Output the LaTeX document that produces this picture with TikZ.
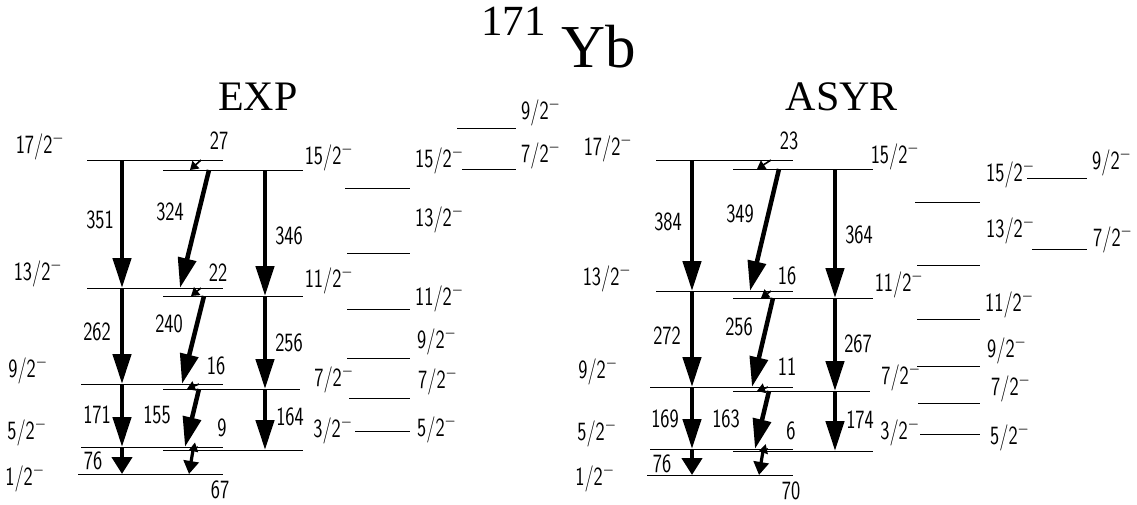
\documentclass[tikz,border=0pt]{standalone}
\usepackage{fontspec}
\setmainfont{Liberation Serif}
\usepackage{graphicx}
\usetikzlibrary{arrows.meta}
\newcommand{\tall}[1]{\scalebox{1}[1.35]{#1}}
\newcommand{\spin}[1]{\tall{#1/2$^{-}$}}

\begin{document}
\begin{tikzpicture}[x=1pt,y=-1pt,>={Triangle[length=30pt,width=18pt]}]
  \tikzstyle{lev}=[line width=1pt]
  \tikzstyle{gam}=[->,line width=4.5pt]
  \tikzstyle{gams}=[-{Triangle[length=17pt,width=20pt]},line width=4.5pt]
  \tikzstyle{gamt}=[-{Triangle[length=13pt,width=15pt]},line width=3.2pt]
  \tikzstyle{mix}=[-{Triangle[length=8pt,width=10pt]},line width=1.6pt]
  \tikzstyle{lbl}=[font=\sffamily\fontsize{19.5}{20}\selectfont,inner sep=0pt]
  \tikzstyle{head}=[font=\fontsize{42}{42}\selectfont,inner sep=0pt,anchor=base]
  \useasboundingbox (0,0) rectangle (1137,504);

  % title
  \node[anchor=base west,inner sep=0pt,font=\fontsize{43}{43}\selectfont] (mass) at (481,35) {171};
  \node[anchor=base west,inner sep=0pt,font=\fontsize{61}{61}\selectfont] (elem) at (561,67) {Yb};
  \node[head] (exp) at (258,110) {EXP};
  \node[head] (asyr) at (842,110) {ASYR};

  % EXP levels
  \draw[lev] (87,160) -- (223,160);
  \draw[lev] (163,170) -- (303,170);
  \draw[lev] (87,288) -- (223,288);
  \draw[lev] (163,296) -- (303,296);
  \draw[lev] (81,384) -- (223,384);
  \draw[lev] (163,389) -- (300,389);
  \draw[lev] (81,447) -- (223,447);
  \draw[lev] (163,450) -- (303,450);
  \draw[lev] (78,474) -- (223,474);
  \draw[lev] (345,188) -- (410,188);
  \draw[lev] (347,253) -- (410,253);
  \draw[lev] (347,309) -- (410,309);
  \draw[lev] (347,358) -- (410,358);
  \draw[lev] (349,398) -- (410,398);
  \draw[lev] (355,431) -- (410,431);
  \draw[lev] (457,128) -- (516,128);
  \draw[lev] (462,169) -- (516,169);

  % EXP transitions
  \coordinate (e17) at (122,160); \coordinate (e13) at (122,288);
  \coordinate (e9) at (122,384);  \coordinate (e5) at (122,447);
  \coordinate (e1) at (122,474);
  \coordinate (e15) at (265,170); \coordinate (e11) at (265,296);
  \coordinate (e7) at (265,389);  \coordinate (e3) at (265,450);
  \coordinate (ed15) at (209,170); \coordinate (ed13) at (180,288);
  \coordinate (ed11) at (204,296); \coordinate (ed9) at (182,384);
  \coordinate (ed7) at (199,389);  \coordinate (ed5) at (185,447);
  \coordinate (ed3) at (193,450);  \coordinate (ed1) at (189,474);
  \coordinate (em17) at (201,160); \coordinate (em15) at (190,170);
  \coordinate (em13) at (201,288); \coordinate (em11) at (191,296);
  \coordinate (em9) at (199,384);  \coordinate (em7) at (187,389);
  \coordinate (em5) at (198,447);  \coordinate (em3) at (189,450);
  \draw[gam] (e17) -- (e13);
  \draw[gam] (e13) -- (e9);
  \draw[gam] (e9) -- (e5);
  \draw[gams] (e5) -- (e1);
  \draw[gam] (e15) -- (e11);
  \draw[gam] (e11) -- (e7);
  \draw[gam] (e7) -- (e3);
  \draw[gam] (ed15) -- (ed13);
  \draw[gam] (ed11) -- (ed9);
  \draw[gam] (ed7) -- (ed5);
  \draw[gamt] (ed3) -- (ed1);
  \draw[mix] (em17) -- (em15);
  \draw[mix] (em13) -- (em11);
  \draw[mix] (em9) -- (em7);
  \draw[mix] (em5) -- (em3);

  % EXP labels
  \node[lbl] (se17) at (40,146) {\spin{17}};
  \node[lbl] (se13) at (38,273) {\spin{13}};
  \node[lbl] (se9) at (28,370) {\spin{9}};
  \node[lbl] (se5) at (27,432) {\spin{5}};
  \node[lbl] (se1) at (25,478) {\spin{1}};
  \node[lbl] (se15) at (329,157) {\spin{15}};
  \node[lbl] (se11) at (329,280) {\spin{11}};
  \node[lbl] (se7) at (334,379) {\spin{7}};
  \node[lbl] (se3) at (333,430) {\spin{3}};
  \node[lbl] (g351) at (100,220) {\tall{351}};
  \node[lbl] (g324) at (170,212) {\tall{324}};
  \node[lbl] (g346) at (289,236) {\tall{346}};
  \node[lbl] (g27) at (219,141) {\tall{27}};
  \node[lbl] (g22) at (218,273) {\tall{22}};
  \node[lbl] (g262) at (97,332) {\tall{262}};
  \node[lbl] (g240) at (169,324) {\tall{240}};
  \node[lbl] (g256) at (289,343) {\tall{256}};
  \node[lbl] (g16) at (216,366) {\tall{16}};
  \node[lbl] (g171) at (97,415) {\tall{171}};
  \node[lbl] (g155) at (157,415) {\tall{155}};
  \node[lbl] (g9) at (222,428) {\tall{9}};
  \node[lbl] (g164) at (290,417) {\tall{164}};
  \node[lbl] (g76) at (93,461) {\tall{76}};
  \node[lbl] (g67) at (220,490) {\tall{67}};
  \node[lbl,anchor=west] (te15) at (415,160) {\spin{15}};
  \node[lbl,anchor=west] (te13) at (415,219) {\spin{13}};
  \node[lbl,anchor=west] (te11) at (415,298) {\spin{11}};
  \node[lbl,anchor=west] (te9) at (417,341) {\spin{9}};
  \node[lbl,anchor=west] (te7) at (418,381) {\spin{7}};
  \node[lbl,anchor=west] (te5) at (417,429) {\spin{5}};
  \node[lbl,anchor=west] (tf9) at (521,112) {\spin{9}};
  \node[lbl,anchor=west] (tf7) at (521,155) {\spin{7}};

  % ASYR levels
  \draw[lev] (656,160) -- (793,160);
  \draw[lev] (733,169) -- (873,169);
  \draw[lev] (656,291) -- (793,291);
  \draw[lev] (733,298) -- (873,298);
  \draw[lev] (650,387) -- (793,387);
  \draw[lev] (733,391) -- (870,391);
  \draw[lev] (650,449) -- (793,449);
  \draw[lev] (733,451) -- (873,451);
  \draw[lev] (647,475) -- (793,475);
  \draw[lev] (915,202) -- (980,202);
  \draw[lev] (917,265) -- (980,265);
  \draw[lev] (917,319) -- (980,319);
  \draw[lev] (917,366) -- (980,366);
  \draw[lev] (918,403) -- (980,403);
  \draw[lev] (920,434) -- (980,434);
  \draw[lev] (1027,178) -- (1087,178);
  \draw[lev] (1032,249) -- (1087,249);

  % ASYR transitions
  \coordinate (r17) at (692,160); \coordinate (r13) at (692,291);
  \coordinate (r9) at (692,387);  \coordinate (r5) at (692,449);
  \coordinate (r1) at (692,475);
  \coordinate (r15) at (835,169); \coordinate (r11) at (835,298);
  \coordinate (r7) at (835,391);  \coordinate (r3) at (835,451);
  \coordinate (rd15) at (779,169); \coordinate (rd13) at (750,291);
  \coordinate (rd11) at (773,298); \coordinate (rd9) at (752,387);
  \coordinate (rd7) at (769,391);  \coordinate (rd5) at (755,449);
  \coordinate (rd3) at (763,451);  \coordinate (rd1) at (759,475);
  \coordinate (rm17) at (771,160); \coordinate (rm15) at (757,169);
  \coordinate (rm13) at (771,291); \coordinate (rm11) at (761,298);
  \coordinate (rm9) at (768,387);  \coordinate (rm7) at (757,391);
  \coordinate (rm5) at (768,449);  \coordinate (rm3) at (759,451);
  \draw[gam] (r17) -- (r13);
  \draw[gam] (r13) -- (r9);
  \draw[gam] (r9) -- (r5);
  \draw[gams] (r5) -- (r1);
  \draw[gam] (r15) -- (r11);
  \draw[gam] (r11) -- (r7);
  \draw[gam] (r7) -- (r3);
  \draw[gam] (rd15) -- (rd13);
  \draw[gam] (rd11) -- (rd9);
  \draw[gam] (rd7) -- (rd5);
  \draw[gamt] (rd3) -- (rd1);
  \draw[mix] (rm17) -- (rm15);
  \draw[mix] (rm13) -- (rm11);
  \draw[mix] (rm9) -- (rm7);
  \draw[mix] (rm5) -- (rm3);

  % ASYR labels
  \node[lbl] (sr17) at (608,148) {\spin{17}};
  \node[lbl] (sr13) at (607,278) {\spin{13}};
  \node[lbl] (sr9) at (598,371) {\spin{9}};
  \node[lbl] (sr5) at (597,433) {\spin{5}};
  \node[lbl] (sr1) at (595,478) {\spin{1}};
  \node[lbl] (sr15) at (895,156) {\spin{15}};
  \node[lbl] (sr11) at (899,284) {\spin{11}};
  \node[lbl] (sr7) at (901,377) {\spin{7}};
  \node[lbl] (sr3) at (900,432) {\spin{3}};
  \node[lbl] (h23) at (789,141) {\tall{23}};
  \node[lbl] (h384) at (668,222) {\tall{384}};
  \node[lbl] (h349) at (740,214) {\tall{349}};
  \node[lbl] (h364) at (859,235) {\tall{364}};
  \node[lbl] (h16) at (787,276) {\tall{16}};
  \node[lbl] (h272) at (667,336) {\tall{272}};
  \node[lbl] (h256) at (739,327) {\tall{256}};
  \node[lbl] (h267) at (858,344) {\tall{267}};
  \node[lbl] (h11) at (787,367) {\tall{11}};
  \node[lbl] (h169) at (665,419) {\tall{169}};
  \node[lbl] (h163) at (726,419) {\tall{163}};
  \node[lbl] (h6) at (791,431) {\tall{6}};
  \node[lbl] (h174) at (860,420) {\tall{174}};
  \node[lbl] (h76) at (662,464) {\tall{76}};
  \node[lbl] (h70) at (791,491) {\tall{70}};
  \node[lbl,anchor=west] (tr15) at (986,174) {\spin{15}};
  \node[lbl,anchor=west] (tr13) at (986,230) {\spin{13}};
  \node[lbl,anchor=west] (tr11) at (985,304) {\spin{11}};
  \node[lbl,anchor=west] (tr9) at (987,350) {\spin{9}};
  \node[lbl,anchor=west] (tr7) at (991,388) {\spin{7}};
  \node[lbl,anchor=west] (tr5) at (990,437) {\spin{5}};
  \node[lbl,anchor=west] (ts9) at (1092,162) {\spin{9}};
  \node[lbl,anchor=west] (ts7) at (1093,239) {\spin{7}};
\end{tikzpicture}
\end{document}
